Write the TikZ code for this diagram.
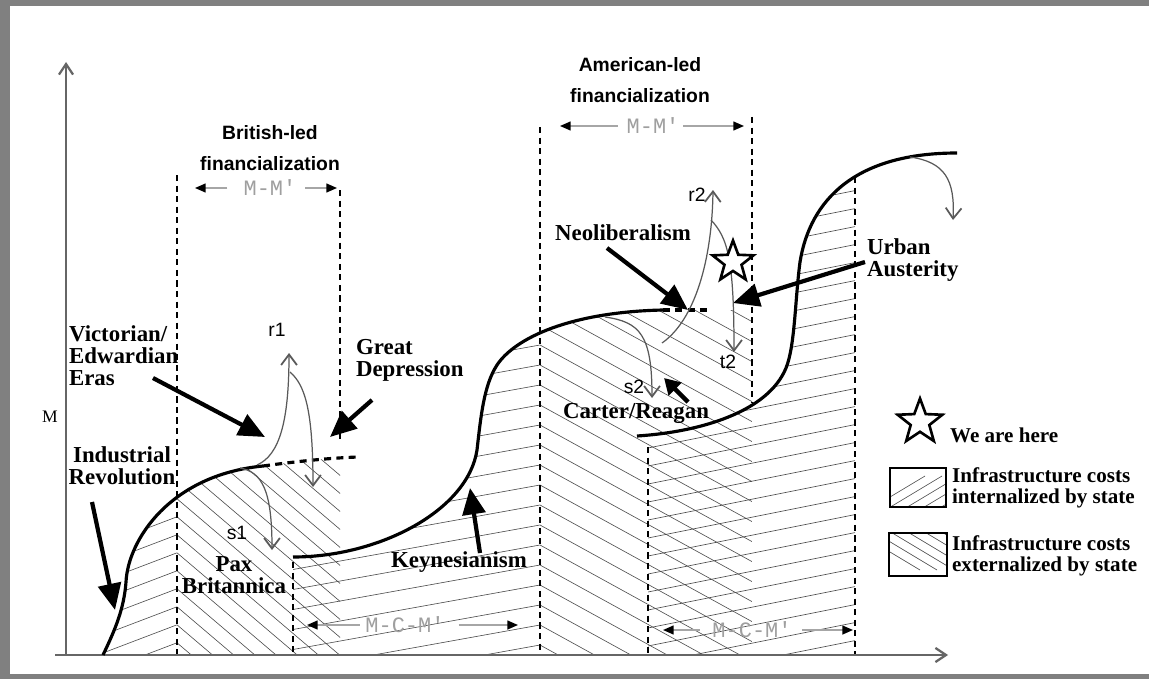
\documentclass[tikz,border=0pt]{standalone}
\usepackage{fontspec}
\setmainfont{Liberation Serif}
\setsansfont{Liberation Sans}
\setmonofont{Liberation Mono}
\usepackage{tikz}
\usetikzlibrary{arrows.meta,shapes.geometric}
\definecolor{framegray}{RGB}{128,128,128}

\begin{document}
\begin{tikzpicture}[
      x=0.02cm, y=-0.02cm,
      era/.style={font=\fontsize{13}{12.5}\selectfont\bfseries, inner sep=1pt},
      lead/.style={font=\sffamily\fontsize{11}{17.5}\selectfont\bfseries,
          align=center, inner sep=1pt},
      tag/.style={font=\sffamily\fontsize{11}{11}\selectfont, inner sep=1pt},
      circuit/.style={font=\ttfamily\fontsize{12.5}{12.5}\selectfont,
          text=gray!75, inner sep=1pt},
      legtext/.style={font=\fontsize{12}{12}\selectfont\bfseries,
          align=left, anchor=west, inner sep=1pt},
      wave/.style={line width=1.8pt},
      trail/.style={line width=1.8pt, dash pattern=on 4pt off 3pt},
      divider/.style={line width=0.6pt, dash pattern=on 3.5pt off 2.5pt},
      hatch/.style={line width=0.35pt, draw=black!70},
      push/.style={line width=2.4pt, -{Triangle[length=15pt,width=13pt]}},
      nudge/.style={line width=2.6pt, -{Triangle[length=9pt,width=10pt]}},
      drift/.style={line width=0.7pt, draw=black!65,
          -{Straight Barb[length=6pt,width=9pt,line width=1pt]}},
      spanarrow/.style={line width=0.9pt, draw=gray!70, shorten <=4pt,
          -{Triangle[length=6pt,width=5pt,color=black]}},
      axisline/.style={line width=1.1pt, draw=gray!80!black,
          -{Straight Barb[length=6pt,width=8pt,line width=1.3pt]}},
      starmark/.style={star, star points=5, star point ratio=2.4, draw,
          line width=1.5pt, fill=white, inner sep=0pt}
  ]

  \useasboundingbox (0,0) rectangle (1149,679);
  \fill[white] (0,0) rectangle (1149,679);

  % frame
  \fill[framegray] (0,0) rectangle (1149,6);
  \fill[framegray] (0,0) rectangle (10,679);
  \fill[framegray] (0,674) rectangle (1149,679);

  % British hatching
  \begin{scope}
    \clip (103,655) .. controls (116,628) and (124,608) .. (126,582)
          .. controls (128,540) and (170,475) .. (263,466)
          .. controls (300,461) and (330,458) .. (358,457)
          -- (358,655) -- cycle;
    \begin{scope}
      \clip (95,440) rectangle (177,655);
      \foreach \k in {0,...,10}
        \draw[hatch] (95,{692-18*\k}) -- ++(82,-31.2);
    \end{scope}
    \begin{scope}
      \clip (177,440) rectangle (340,655);
      \foreach \k in {0,...,20}
        \draw[hatch] (177,{660.8-18*\k}) -- ++(170,144.5);
    \end{scope}
  \end{scope}

  % Keynesian hatching
  \begin{scope}
    \clip (293,557) .. controls (380,557) and (468,510) .. (477,450)
          .. controls (481,415) and (484,385) .. (497,365)
          .. controls (515,338) and (570,312) .. (663,310)
          -- (752,310) -- (752,655) -- (293,655) -- cycle;
    \begin{scope}
      \clip (293,300) rectangle (540,655);
      \foreach \k in {0,...,17}
        \draw[hatch] (293,{709.5-20*\k}) -- ++(247,-44.5);
    \end{scope}
    \begin{scope}
      \clip (540,300) rectangle (752,655);
      \foreach \k in {0,...,24}
        \draw[hatch] (540,{665-20*\k}) -- ++(212,116.6);
    \end{scope}
  \end{scope}

  % Urban hatching
  \begin{scope}
    \clip (637,436) .. controls (700,432) and (768,412) .. (786,368)
          .. controls (795,346) and (795,300) .. (800,262)
          .. controls (810,200) and (855,153) .. (957,153)
          -- (957,655) -- (637,655) -- cycle;
    \clip (648,150) rectangle (855,655);
    \foreach \k in {0,...,28}
      \draw[hatch] (648,{700-18*\k}) -- ++(207,-41.4);
  \end{scope}

  % dividers
  \draw[divider] (177,175) -- (177,655);
  \draw[divider] (340,190) -- (340,440);
  \draw[divider] (293,562) -- (293,655);
  \draw[divider] (540,127) -- (540,655);
  \draw[divider] (752,117) -- (752,403);
  \draw[divider] (648,447) -- (648,655);
  \draw[divider] (855,177) -- (855,655);

  % axes
  \coordinate (origin) at (66,655);
  \coordinate (ytop) at (66,62);
  \coordinate (xleft) at (55,655);
  \coordinate (xright) at (948,655);
  \draw[axisline] (origin) -- (ytop);
  \draw[axisline] (xleft) -- (xright);
  \node[font=\fontsize{10}{10}\selectfont, inner sep=1pt] (ylabel) at (50,417) {M};

  % curves
  \draw[wave] (103,655) .. controls (116,628) and (124,608) .. (126,582)
        .. controls (128,540) and (170,475) .. (263,466);
  \draw[trail] (263,466) .. controls (300,461) and (330,458) .. (358,457);
  \draw[wave] (293,557) .. controls (380,557) and (468,510) .. (477,450)
        .. controls (481,415) and (484,385) .. (497,365)
        .. controls (515,338) and (570,312) .. (663,310);
  \draw[trail] (663,310) -- (712,310);
  \draw[wave] (637,436) .. controls (700,432) and (768,412) .. (786,368)
        .. controls (795,346) and (795,300) .. (800,262)
        .. controls (810,200) and (855,153) .. (957,153);

  % headings
  \node[lead] (british) at (270,148) {British-led\\financialization};
  \node[lead] (american) at (640,80) {American-led\\financialization};

  % circuits
  \node[circuit] (mmBrit) at (270,188) {M-M'};
  \coordinate (mmBritL) at (195,188);
  \coordinate (mmBritR) at (337,188);
  \draw[spanarrow, shorten <=8pt] (mmBrit) -- (mmBritL);
  \draw[spanarrow] (mmBrit) -- (mmBritR);
  \node[circuit] (mmAmer) at (653,126) {M-M'};
  \coordinate (mmAmerL) at (560,126);
  \coordinate (mmAmerR) at (744,126);
  \draw[spanarrow] (mmAmer) -- (mmAmerL);
  \draw[spanarrow, shorten <=1pt] (mmAmer) -- (mmAmerR);
  \node[circuit] (mcmKeyn) at (405,625) {M-C-M'};
  \coordinate (mcmKeynL) at (307,625);
  \coordinate (mcmKeynR) at (518,625);
  \draw[spanarrow, shorten <=2pt] (mcmKeyn) -- (mcmKeynL);
  \draw[spanarrow, shorten <=7pt] (mcmKeyn) -- (mcmKeynR);
  \node[circuit] (mcmUrb) at (752,630) {M-C-M'};
  \coordinate (mcmUrbL) at (663,630);
  \coordinate (mcmUrbR) at (853,630);
  \draw[spanarrow, shorten <=6pt] (mcmUrb) -- (mcmUrbL);
  \draw[spanarrow, shorten <=5pt] (mcmUrb) -- (mcmUrbR);

  % era labels
  \node[era, align=left, anchor=west] (victorian) at (67,356) {Victorian/\\Edwardian\\Eras};
  \node[era, align=center] (industrial) at (122,466) {Industrial\\Revolution};
  \node[era, align=left, anchor=west] (depression) at (354,360) {Great\\Depression};
  \node[era, align=center] (pax) at (234,575) {Pax\\Britannica};
  \node[era] (keynes) at (459,562) {Keynesianism};
  \node[era] (neolib) at (623,233) {Neoliberalism};
  \node[era] (carter) at (636,413) {Carter/Reagan};
  \node[era, align=left, anchor=west] (urban) at (865,260) {Urban\\Austerity};

  % big arrows
  \coordinate (vicTail) at (153,378);   \coordinate (vicTip) at (265,437);
  \coordinate (depTail) at (372,400);   \coordinate (depTip) at (330,437);
  \coordinate (indTail) at (92,502);    \coordinate (indTip) at (115,610);
  \coordinate (keyTail) at (480,553);   \coordinate (keyTip) at (470,488);
  \coordinate (neoTail) at (607,248);   \coordinate (neoTip) at (688,310);
  \coordinate (urbTail) at (865,262);   \coordinate (urbTip) at (733,303);
  \coordinate (carTail) at (688,402);   \coordinate (carTip) at (664,378);
  \draw[push] (vicTail) -- (vicTip);
  \draw[push] (depTail) -- (depTip);
  \draw[push] (indTail) -- (indTip);
  \draw[push] (keyTail) -- (keyTip);
  \draw[push] (neoTail) -- (neoTip);
  \draw[push] (urbTail) -- (urbTip);
  \draw[nudge] (carTail) -- (carTip);

  % thin arrows
  \coordinate (r1Base) at (257,465);  \coordinate (r1Tip) at (289,353);
  \coordinate (r1Fork) at (290,372);  \coordinate (r1Drop) at (313,487);
  \coordinate (s1Base) at (240,468);  \coordinate (s1Tip) at (272,550);
  \coordinate (r2Base) at (662,343);  \coordinate (r2Tip) at (713,190);
  \coordinate (t2Fork) at (711,220);  \coordinate (t2Tip) at (734,352);
  \coordinate (s2Base) at (605,317);  \coordinate (s2Tip) at (652,398);
  \coordinate (endBase) at (910,157); \coordinate (endTip) at (953,220);
  \draw[drift] (r1Base) .. controls (280,455) and (289,420) .. (r1Tip);
  \draw[drift] (r1Fork) .. controls (305,385) and (313,410) .. (r1Drop);
  \draw[drift] (s1Base) .. controls (262,472) and (272,490) .. (s1Tip);
  \draw[drift] (r2Base) .. controls (695,320) and (712,260) .. (r2Tip);
  \draw[drift] (t2Fork) .. controls (728,238) and (734,260) .. (t2Tip);
  \draw[drift] (s2Base) .. controls (640,322) and (652,335) .. (s2Tip);
  \draw[drift] (endBase) .. controls (945,162) and (955,180) .. (endTip);

  \node[tag] (r1) at (277,330) {r1};
  \node[tag] (s1) at (237,533) {s1};
  \node[tag] (r2) at (697,195) {r2};
  \node[tag] (s2) at (634,387) {s2};
  \node[tag] (t2) at (728,362) {t2};

  % we are here
  \node[starmark, minimum size=0.86cm] (now) at (733,262) {};

  % legend
  \node[starmark, minimum size=0.94cm] (legstar) at (920,422) {};
  \node[legtext] (legnow) at (948,435) {We are here};
  \begin{scope}
    \clip (890,468) rectangle (946,507);
    \foreach \k in {0,...,8}
      \draw[hatch] ({865+17*\k},512) -- ++(60,-36);
  \end{scope}
  \draw[line width=1.5pt] (890,468) rectangle (946,507);
  \node[legtext] (legin) at (950,488) {Infrastructure costs\\internalized by state};
  \begin{scope}
    \clip (889,533) rectangle (947,576);
    \foreach \k in {0,...,8}
      \draw[hatch] ({850+17*\k},528) -- ++(70,42);
  \end{scope}
  \draw[line width=1.5pt] (889,533) rectangle (947,576);
  \node[legtext] (legex) at (950,556) {Infrastructure costs\\externalized by state};
\end{tikzpicture}
\end{document}
